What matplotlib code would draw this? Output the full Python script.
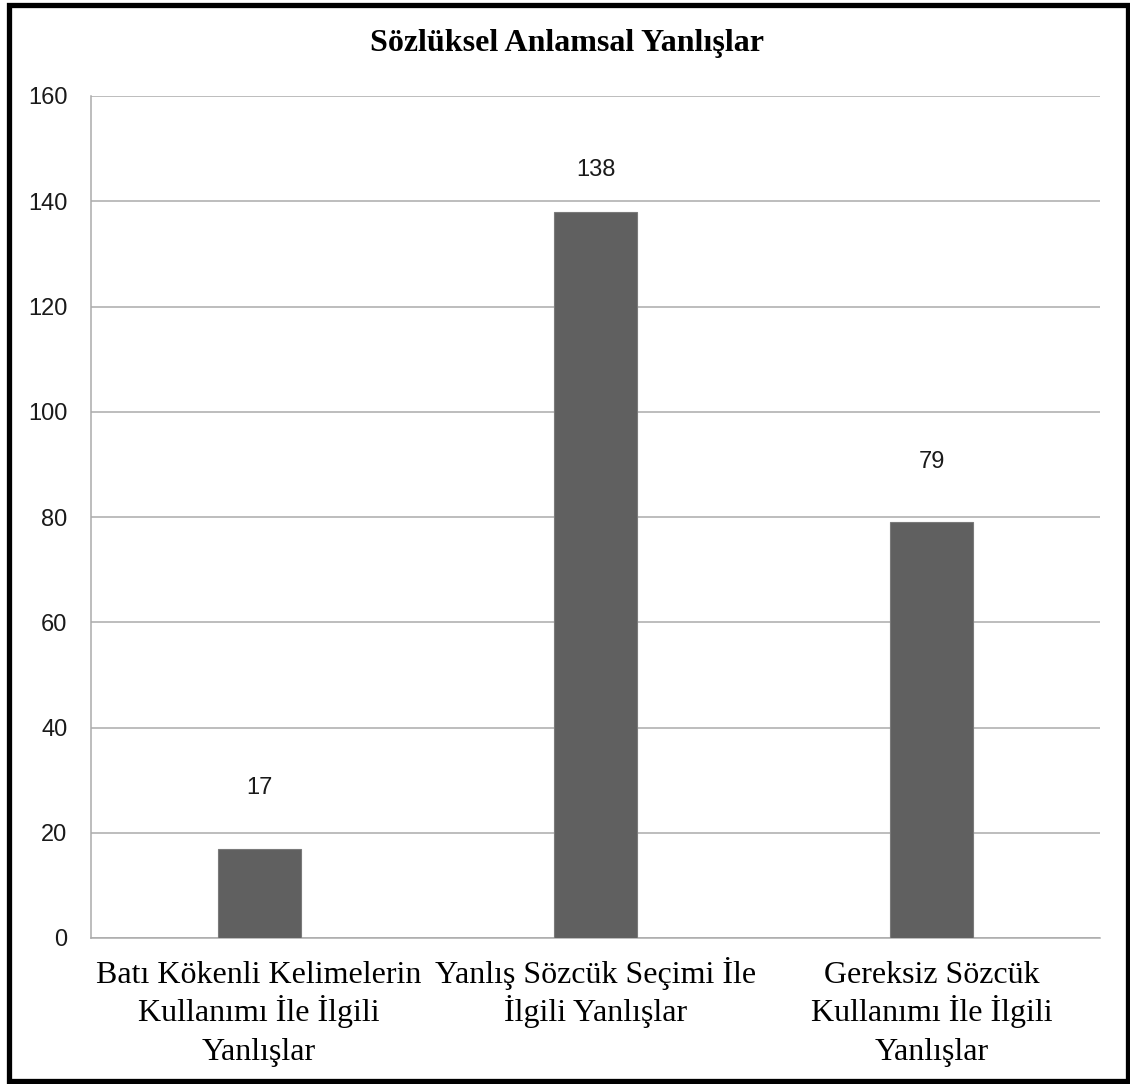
import matplotlib
matplotlib.use("Agg")
import matplotlib.pyplot as plt
from matplotlib.patches import Rectangle
from matplotlib.transforms import blended_transform_factory, offset_copy

# Chart data
title = "Sözlüksel Anlamsal Yanlışlar"
categories = [
    "Batı Kökenli Kelimelerin\nKullanımı İle İlgili\nYanlışlar",
    "Yanlış Sözcük Seçimi İle\nİlgili Yanlışlar",
    "Gereksiz Sözcük\nKullanımı İle İlgili\nYanlışlar",
]
values = [17, 138, 79]
y_ticks = [0, 20, 40, 60, 80, 100, 120, 140, 160]

W, H, DPI = 1130, 1084, 100
fig = plt.figure(figsize=(W / DPI, H / DPI), dpi=DPI)
fig.patch.set_facecolor("white")

# plot area in pixel coordinates
x0, x1, ytop, ybot = 91, 1100, 96, 938
ax = fig.add_axes([x0 / W, 1 - ybot / H, (x1 - x0) / W, (ybot - ytop) / H])

grid_color = "#ababab"
bar_color = "#606060"

x = list(range(len(categories)))
ax.bar(x, values, width=0.247, color=bar_color, edgecolor="#7a7a7a",
       linewidth=0.8, zorder=3)
ax.set_xlim(-0.5, len(categories) - 0.5)
ax.set_ylim(0, 160)
ax.set_yticks(y_ticks)
ax.yaxis.grid(True, color=grid_color, linewidth=1.1, zorder=0)
ax.set_axisbelow(True)

for side in ("top", "right"):
    ax.spines[side].set_visible(False)
for side in ("left", "bottom"):
    ax.spines[side].set_color(grid_color)
    ax.spines[side].set_linewidth(1.1)

ax.tick_params(axis="both", length=0)
ax.tick_params(axis="y", pad=17)
for lbl in ax.get_yticklabels():
    lbl.set_fontfamily("Liberation Sans")
    lbl.set_fontsize(17)
    lbl.set_color("#1a1a1a")

# category labels: one text per line so the baselines are evenly spaced
ax.set_xticks(x)
ax.set_xticklabels([""] * len(categories))
base = blended_transform_factory(ax.transData, ax.transAxes)
first_baseline, line_step = 32.4, 27.7  # points below the x axis
for xi, cat in zip(x, categories):
    for i, line in enumerate(cat.split("\n")):
        tr = offset_copy(base, fig=fig, x=0, y=-(first_baseline + i * line_step),
                         units="points")
        ax.text(xi, 0, line, transform=tr, ha="center", va="baseline",
                fontfamily="Liberation Serif", fontsize=23, color="black",
                clip_on=False)

# value labels above the bars
for xi, v in zip(x, values):
    ax.text(xi, min(v + 11.5, 146), str(v), ha="center", va="center",
            fontfamily="Liberation Sans", fontsize=17, color="#1a1a1a")

fig.text(567 / W, 1 - 44 / H, title, ha="center", va="center",
         fontfamily="Liberation Serif", fontweight="bold", fontsize=23)

# outer frame
fig.patches.append(Rectangle((8.5 / W, 3 / H), (1127.5 - 8.5) / W, (1079 - 3) / H,
                             transform=fig.transFigure, fill=False,
                             edgecolor="black", linewidth=3.8))

fig.savefig("out.png", dpi=DPI, facecolor="white")
